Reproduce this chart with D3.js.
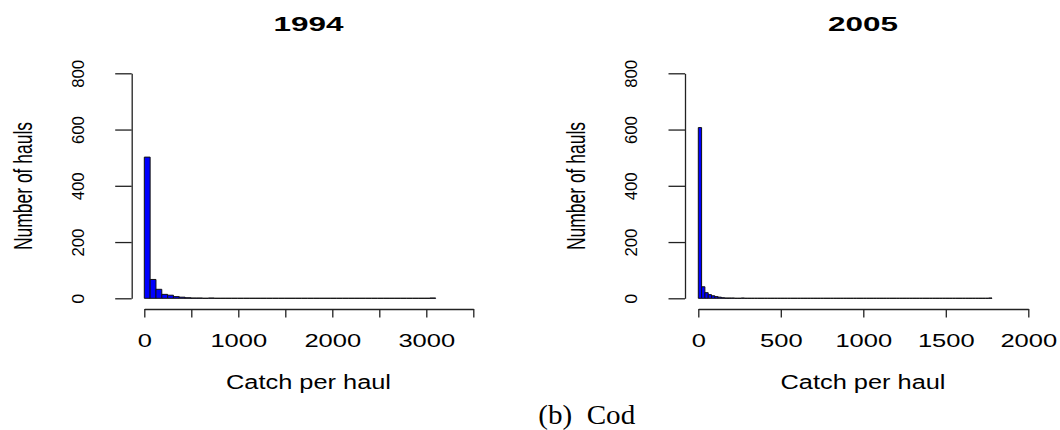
<!DOCTYPE html>
<html>
<head>
<meta charset="utf-8">
<script src="https://cdn.jsdelivr.net/npm/d3@7"></script>
<style>
  html, body { margin: 0; padding: 0; background: #fff; }
  svg { display: block; }
  text { font-family: "Liberation Sans", Arial, sans-serif; fill: #000; }
</style>
</head>
<body>
<svg id="chart" width="1060" height="430"></svg>
<script>
// Histogram of catch per haul (cod), two survey years.
const years = ["1994", "2005"];

// 1994: 50 bins of width 62 (0 – 3100)
const binWidth1994 = 62;
const counts1994 = [
  502, 67, 32, 14, 11, 6, 4, 2, 1, 1,
  0, 1, 0, 0, 0, 0, 0, 0, 0, 0,
  0, 0, 0, 0, 0, 0, 0, 0, 0, 0,
  0, 0, 0, 0, 0, 0, 0, 0, 0, 0,
  0, 0, 0, 0, 0, 0, 0, 0, 0, 1
];

// 2005: 89 bins of width 20 (0 – 1780)
const binWidth2005 = 20;
const counts2005 = [
  607, 41, 20, 13, 9, 6, 4, 2, 1, 1,
  1, 0, 0, 1, 0, 0, 0, 0, 0, 0,
  0, 0, 0, 0, 0, 0, 0, 0, 0, 0,
  0, 0, 0, 0, 0, 0, 0, 0, 0, 0,
  0, 0, 0, 0, 0, 0, 0, 0, 0, 0,
  0, 0, 0, 0, 0, 0, 0, 0, 0, 0,
  0, 0, 0, 0, 0, 0, 0, 0, 0, 0,
  0, 0, 0, 0, 0, 0, 0, 0, 0, 0,
  0, 0, 0, 0, 0, 0, 0, 0, 1
];

const xTicks1994 = [0, 500, 1000, 1500, 2000, 2500, 3000, 3500];
const xTickLabels1994 = ["0", "", "1000", "", "2000", "", "3000", ""];
const xTicks2005 = [0, 500, 1000, 1500, 2000];
const xTickLabels2005 = ["0", "500", "1000", "1500", "2000"];
const yTicks = [0, 200, 400, 600, 800];

const xLabel = "Catch per haul";
const yLabel = "Number of hauls";
const caption = "(b)  Cod";

const svg = d3.select("#chart");

const panels = [
  {
    title: years[0], counts: counts1994, width: binWidth1994,
    xDomain: [0, 3500], xRange: [144.3, 473.3],
    ticks: xTicks1994, tickLabels: xTickLabels1994,
    yAxisX: 131.7, yTextX: 83.5, yLabX: 31.5, center: 308.5
  },
  {
    title: years[1], counts: counts2005, width: binWidth2005,
    xDomain: [0, 2000], xRange: [698.3, 1028.3],
    ticks: xTicks2005, tickLabels: xTickLabels2005,
    yAxisX: 685, yTextX: 637, yLabX: 585, center: 863
  }
];

const yRange = [298.3, 73.3];
const xAxisY = 309;

panels.forEach(p => {
  const x = d3.scaleLinear().domain(p.xDomain).range(p.xRange);
  const y = d3.scaleLinear().domain([0, 800]).range(yRange);
  const g = svg.append("g");

  // bars (zero-count bins collapse to a line on the baseline)
  const bins = p.counts.map((c, i) => ({ x0: i * p.width, x1: (i + 1) * p.width, n: c }));
  g.append("g").selectAll("path").data(bins).join("path")
    .attr("d", d => `M${x(d.x0)},${y(0)}H${x(d.x1)}V${y(d.n)}H${x(d.x0)}Z`)
    .attr("fill", "#0000ff")
    .attr("stroke", "#111")
    .attr("stroke-width", 1);

  // y axis
  const ya = g.append("g")
    .attr("transform", `translate(${p.yAxisX},0)`)
    .call(d3.axisLeft(y).tickValues(yTicks).tickSize(16.5).tickSizeOuter(0).tickPadding(0));
  ya.select(".domain").attr("stroke", "#222").attr("stroke-width", 1.3);
  ya.selectAll(".tick line").attr("stroke", "#222").attr("stroke-width", 1.3);
  ya.selectAll(".tick text")
    .attr("x", null).attr("dy", null)
    .attr("text-anchor", "middle")
    .attr("transform", `translate(${p.yTextX - p.yAxisX},0) rotate(-90)`)
    .style("font-size", "17px")
    .attr("fill", "#000")
    .each(function(d) {
      const s = String(d);
      d3.select(this).attr("textLength", s.length === 1 ? 10 : s.length * 9.3)
        .attr("lengthAdjust", "spacingAndGlyphs");
    });

  // x axis
  const xa = g.append("g")
    .attr("transform", `translate(0,${xAxisY})`)
    .call(d3.axisBottom(x).tickValues(p.ticks).tickSize(8.4).tickSizeOuter(0)
      .tickFormat((d, i) => p.tickLabels[i]));
  xa.select(".domain").attr("stroke", "#222").attr("stroke-width", 1.3);
  xa.selectAll(".tick line").attr("stroke", "#222").attr("stroke-width", 1.3);
  xa.selectAll(".tick text")
    .attr("y", 37.7).attr("dy", null)
    .style("font-size", "18.5px")
    .attr("fill", "#000")
    .each(function() {
      const s = d3.select(this).text();
      if (s.length) {
        d3.select(this).attr("textLength", s.length * 14.2)
          .attr("lengthAdjust", "spacingAndGlyphs");
      }
    });

  // title
  g.append("text")
    .attr("x", p.center).attr("y", 31)
    .attr("text-anchor", "middle")
    .style("font-size", "20px").style("font-weight", "bold")
    .attr("textLength", 70).attr("lengthAdjust", "spacingAndGlyphs")
    .text(p.title);

  // x label
  g.append("text")
    .attr("x", p.center).attr("y", 389.3)
    .attr("text-anchor", "middle")
    .style("font-size", "20px")
    .attr("textLength", 165).attr("lengthAdjust", "spacingAndGlyphs")
    .text(xLabel);

  // y label
  g.append("text")
    .attr("transform", `translate(${p.yLabX},186) rotate(-90)`)
    .attr("text-anchor", "middle")
    .style("font-size", "26px")
    .attr("textLength", 128).attr("lengthAdjust", "spacingAndGlyphs")
    .text(yLabel);
});

// caption
svg.append("text")
  .attr("x", 586.7).attr("y", 423.5)
  .attr("text-anchor", "middle")
  .style("font-family", "'Liberation Serif', 'Times New Roman', serif")
  .style("font-size", "28px")
  .style("white-space", "pre")
  .attr("textLength", 97).attr("lengthAdjust", "spacingAndGlyphs")
  .text(caption);
</script>
</body>
</html>
